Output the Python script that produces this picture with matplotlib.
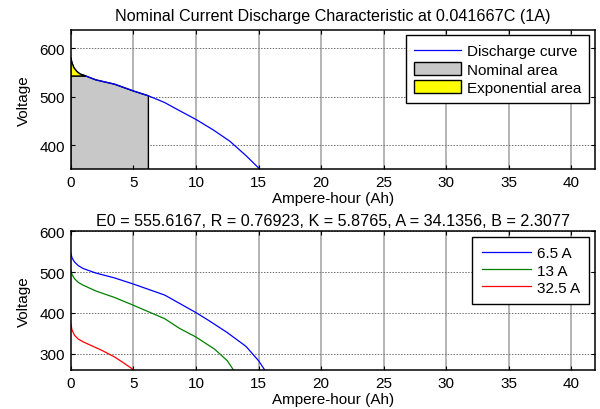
import numpy as np
import matplotlib
matplotlib.use("Agg")
import matplotlib.pyplot as plt

plt.rcParams['font.family'] = ['Liberation Sans', 'DejaVu Sans']
plt.rcParams['font.size'] = 11

# Top chart: nominal discharge curve
dis_ah = [0, 0.1, 0.25, 0.5, 0.75, 1.0, 1.2, 2, 3.5, 5, 6.2, 7.5, 8.7, 10, 11.4, 12.7, 14.0, 15.1]
dis_v = [581, 570, 560, 552, 547, 545, 543, 535, 526, 512, 502, 488, 471, 453, 431, 408, 378, 350]
exp_ah = 1.2     # end of exponential zone
exp_v = 543
nom_ah = 6.2     # end of nominal zone
nom_v = 502

# Bottom chart: discharge at different currents
c1_ah = [0, 0.1, 0.3, 0.6, 1, 2, 3.5, 5, 7.5, 10, 11, 12.5, 14, 15, 15.5]
c1_v = [547, 535, 525, 516, 509, 498, 486, 471, 444, 401, 382, 352, 318, 283, 260]
c2_ah = [0, 0.1, 0.3, 0.6, 1, 2, 3.5, 5, 7.5, 8.7, 10, 11, 11.5, 12.5, 13]
c2_v = [505, 494, 484, 475, 468, 454, 438, 419, 386, 362, 341, 321, 311, 283, 260]
c3_ah = [0, 0.1, 0.3, 0.6, 1, 2, 2.5, 3.5, 4.2, 5]
c3_v = [374, 358, 345, 336, 329, 315, 308, 292, 278, 261]
labels = ['6.5 A', '13 A', '32.5 A']

top_title = 'Nominal Current Discharge Characteristic at 0.041667C (1A)'
bot_title = 'E0 = 555.6167, R = 0.76923, K = 5.8765, A = 34.1356, B = 2.3077'
xticks = [0, 5, 10, 15, 20, 25, 30, 35, 40]

fig = plt.figure(figsize=(6, 4.1), dpi=100)
ax1 = fig.add_axes([0.118, 0.585, 0.874, 0.339])
ax2 = fig.add_axes([0.118, 0.095, 0.874, 0.338])


def style(ax, yticks, ylim):
    ax.set_xlim(0, 41.9)
    ax.set_ylim(*ylim)
    ax.set_xticks(xticks)
    ax.set_yticks(yticks)
    for x in xticks[1:]:
        ax.axvline(x, color='#a0a0a0', lw=1.1, zorder=0.5)
    for y in yticks:
        ax.axhline(y, color='#707070', lw=0.7, ls=(0, (1.5, 1.5)), zorder=0.5)
    ax.tick_params(direction='in', length=3, top=True, right=True, labelsize=11, width=0.8, pad=4)
    for s in ax.spines.values():
        s.set_linewidth(1.1)
    ax.set_xlabel('Ampere-hour (Ah)', labelpad=2)
    ax.set_ylabel('Voltage', labelpad=6)


style(ax1, [400, 500, 600], (350, 638))
style(ax2, [300, 400, 500, 600], (260, 600))

ah = np.array(dis_ah)
v = np.array(dis_v)

# Nominal area
m_nom = ah <= nom_ah
m_exp = ah >= exp_ah
sel = m_nom & m_exp
px = [0, 0] + list(ah[sel]) + [nom_ah, 0]
py = [0, exp_v] + list(v[sel]) + [0, 0]
nom_patch = ax1.fill(px, py, facecolor='#c8c8c8', edgecolor='black', lw=1.0, zorder=1, label='Nominal area')[0]
# Exponential area
sel2 = ah <= exp_ah
ex = list(ah[sel2]) + [0]
ey = list(v[sel2]) + [exp_v]
exp_patch = ax1.fill(ex, ey, facecolor='#ffff00', edgecolor='black', lw=1.0, zorder=1.1, label='Exponential area')[0]

line, = ax1.plot(ah, v, color='#0000ff', lw=0.9, zorder=1.05, label='Discharge curve')
ax1.set_title(top_title, fontsize=11.6, pad=7)

leg = ax1.legend(handles=[line, nom_patch, exp_patch], loc='upper right', fancybox=False,
                 edgecolor='black', framealpha=1, fontsize=11, borderpad=0.55,
                 handlelength=3.05, handleheight=0.87, handletextpad=0.4, labelspacing=0.25,
                 bbox_to_anchor=(0.989, 0.962), borderaxespad=0)
leg.get_frame().set_linewidth(1.0)

ax2.plot(c1_ah, c1_v, color='#0000ff', lw=0.9, label=labels[0])
ax2.plot(c2_ah, c2_v, color='#008000', lw=0.9, label=labels[1])
ax2.plot(c3_ah, c3_v, color='#ff0000', lw=0.9, label=labels[2])
ax2.set_title(bot_title, fontsize=11.6, pad=5)
leg2 = ax2.legend(loc='upper right', fancybox=False, edgecolor='black', framealpha=1,
                  fontsize=11, borderpad=0.62, handlelength=3.2, handletextpad=0.4,
                  labelspacing=0.2, bbox_to_anchor=(0.989, 0.96), borderaxespad=0)
leg2.get_frame().set_linewidth(1.0)

fig.savefig('out.png', dpi=100)
